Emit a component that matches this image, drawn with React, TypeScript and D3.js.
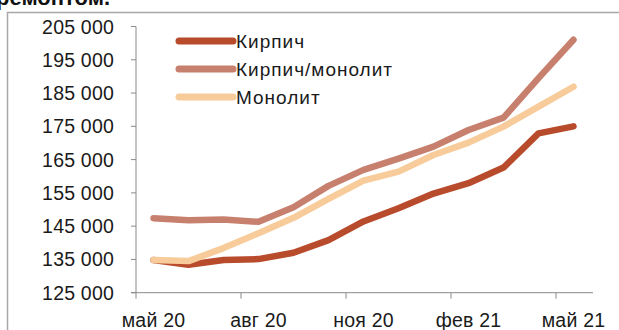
import React from "react";
import * as d3 from "d3";

// Monthly price series, май 20 – май 21
const months = [
  "май 20", "июн 20", "июл 20", "авг 20", "сен 20", "окт 20", "ноя 20",
  "дек 20", "янв 21", "фев 21", "мар 21", "апр 21", "май 21",
];
const brick = [134800, 133400, 134800, 135100, 137000, 140800, 146400, 150400, 154800, 157900, 162600, 172900, 175000];
const brickMonolith = [147400, 146800, 147000, 146300, 150700, 157100, 161900, 165300, 168900, 173900, 177600, 189500, 201000];
const monolith = [134800, 134500, 138400, 142900, 147500, 153200, 158700, 161400, 166400, 170100, 174900, 180900, 186900];

const seriesNames = ["Кирпич", "Кирпич/монолит", "Монолит"];
const seriesColors = ["#b94b2d", "#c8806e", "#f7cc9a"];
const yTicks = [125000, 135000, 145000, 155000, 165000, 175000, 185000, 195000, 205000];
const labelledMonths = ["май 20", "авг 20", "ноя 20", "фев 21", "май 21"];

const W = 619;
const H = 330;
const FONT = "'Liberation Sans', Arial, sans-serif";

export default function App() {
  const x = d3.scaleBand<string>().domain(months).range([136, 591]).paddingInner(0).paddingOuter(0);
  const y = d3.scaleLinear().domain([125000, 205000]).range([292.7, 26.5]);
  const cx = (m: string) => (x(m) as number) + x.bandwidth() / 2;

  const line = d3
    .line<number>()
    .x((_, i) => cx(months[i]))
    .y((v) => y(v));

  const allSeries = [brick, brickMonolith, monolith];
  const fmt = (v: number) => d3.format(",")(v).replace(/,/g, " ");

  // ticks at category boundaries, every three months
  const boundaryTicks = months
    .map((m, i) => ({ m, i }))
    .filter(({ i }) => i % 3 === 0)
    .map(({ m }) => x(m) as number);

  return (
    <svg
      width={W}
      height={H}
      style={{ position: "absolute", left: 0, top: 0, background: "#fff" }}
      fontFamily={FONT}
    >
      <text x={-4} y={5} fontSize={22} fontWeight="bold" fill="#111">
        ремонтом.
      </text>
      <rect x={7.5} y={12.5} width={700} height={400} fill="none" stroke="#a8a8a8" strokeWidth={1.5} />

      {/* y axis */}
      <line x1={136} x2={136} y1={y(205000)} y2={y(125000)} stroke="#8a8a8a" strokeWidth={1} />
      {yTicks.map((t) => (
        <g key={t}>
          <line x1={131} x2={136} y1={y(t)} y2={y(t)} stroke="#8a8a8a" strokeWidth={1} />
          <text x={114} y={y(t)} dy="0.36em" textAnchor="end" fontSize={19.5} fill="#1a1a1a" letterSpacing={0.2}>
            {fmt(t)}
          </text>
        </g>
      ))}

      {/* x axis */}
      <line x1={131} x2={593} y1={y(125000)} y2={y(125000)} stroke="#8a8a8a" strokeWidth={1} />
      {boundaryTicks.map((bx, i) => (
        <line key={i} x1={bx} x2={bx} y1={y(125000)} y2={y(125000) + 6} stroke="#8a8a8a" strokeWidth={1} />
      ))}
      {labelledMonths.map((m) => (
        <text key={m} x={cx(m)} y={326.5} textAnchor="middle" fontSize={19.5} fill="#1a1a1a" letterSpacing={0.2}>
          {m}
        </text>
      ))}

      {/* series */}
      {allSeries.map((s, i) => (
        <path
          key={seriesNames[i]}
          d={line(s) as string}
          fill="none"
          stroke={seriesColors[i]}
          strokeWidth={6.5}
          strokeLinecap="round"
          strokeLinejoin="round"
        />
      ))}

      {/* legend */}
      {seriesNames.map((name, i) => (
        <g key={name} transform={`translate(0, ${41 + i * 28})`}>
          <line x1={179} x2={233} y1={0} y2={0} stroke={seriesColors[i]} strokeWidth={7} strokeLinecap="round" />
          <text x={236} y={0} dy="0.36em" fontSize={19} fill="#1a1a1a" letterSpacing={1}>
            {name}
          </text>
        </g>
      ))}
    </svg>
  );
}
